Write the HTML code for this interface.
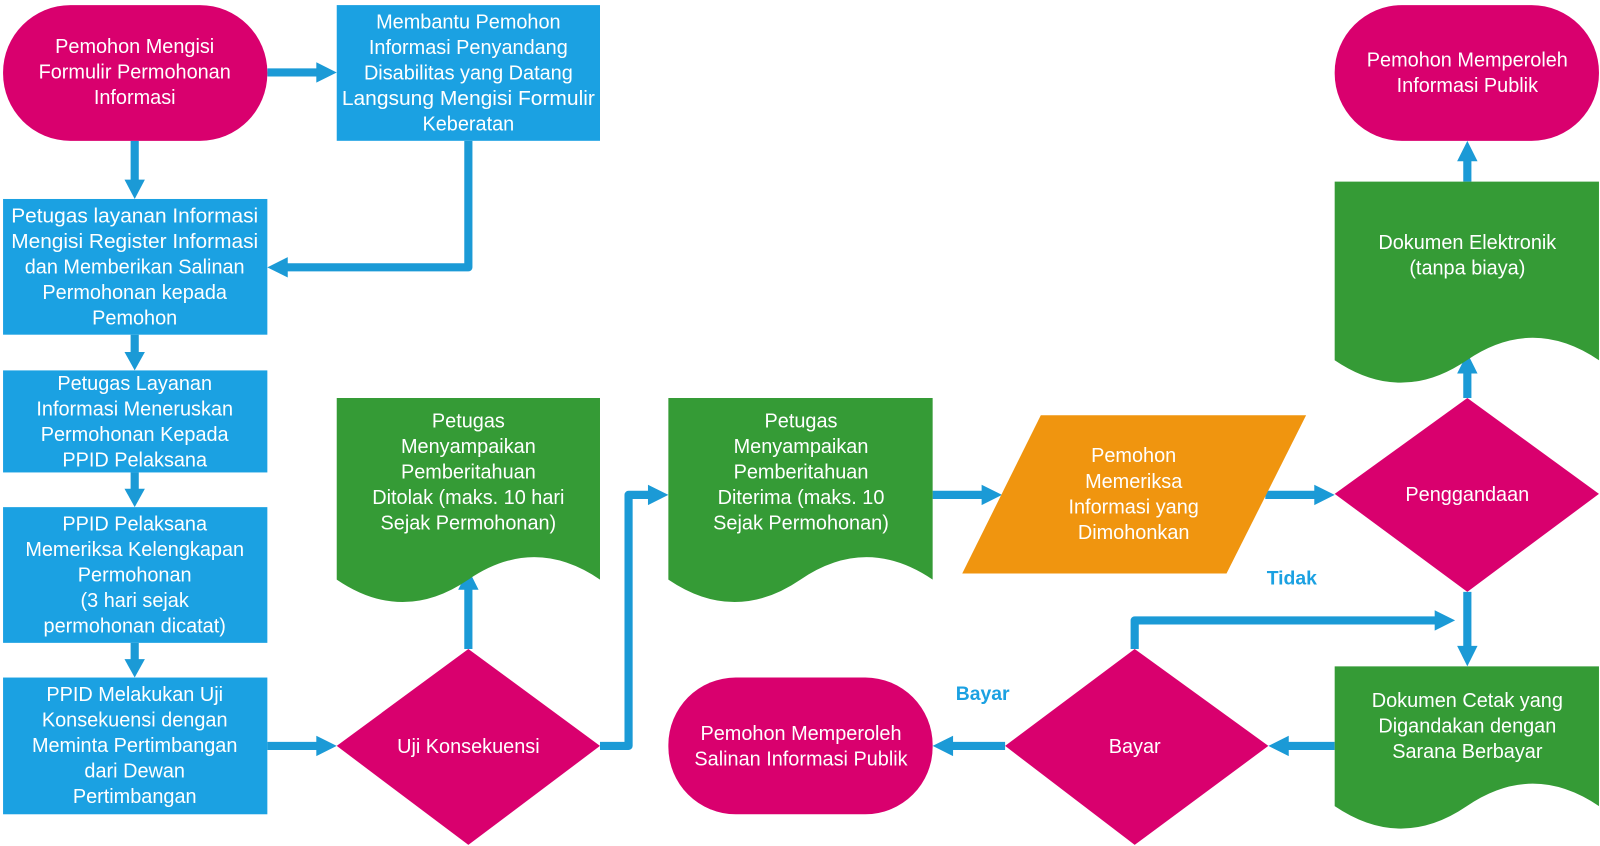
<!DOCTYPE html>
<html><head><meta charset="utf-8"><style>
html,body{margin:0;padding:0;background:#fff;overflow:hidden;width:1600px;height:846px;}
svg{display:block;}
text{font-family:"Liberation Sans",sans-serif;font-size:19.5px;fill:#fff;text-anchor:middle;}
.lb{fill:#1ba1e2;font-weight:bold;font-size:19px;}
</style></head><body>
<svg width="1600" height="846" viewBox="0 0 1600 846" xmlns="http://www.w3.org/2000/svg">
<g transform="scale(1.0204)">
<g fill="none" stroke="#1b9ad6" stroke-width="8" stroke-linejoin="round">
<path d="M262 71H312"/>
<path d="M132 138V178"/>
<path d="M459 138V262H280"/>
<path d="M132 328V346"/>
<path d="M132 463V480"/>
<path d="M132 630V647"/>
<path d="M262 731H312"/>
<path d="M459 636V576"/>
<path d="M588 731H616V485H637"/>
<path d="M914 485H964"/>
<path d="M1240 485H1290"/>
<path d="M1438 390V364"/>
<path d="M1438 178V156"/>
<path d="M1438 580V635"/>
<path d="M1308 731H1261"/>
<path d="M1112 636V608H1407"/>
<path d="M985 731H932"/>
</g>
<g fill="#1b9ad6">
<polygon points="310,61 330,71 310,81"/>
<polygon points="122,176 132,195 142,176"/>
<polygon points="282,252 262,262 282,272"/>
<polygon points="122,345 132,363 142,345"/>
<polygon points="122,479 132,497 142,479"/>
<polygon points="122,646 132,664 142,646"/>
<polygon points="310,721 330,731 310,741"/>
<polygon points="449,578 459,558 469,578"/>
<polygon points="635,475 655,485 635,495"/>
<polygon points="962,475 982,485 962,495"/>
<polygon points="1288,475 1308,485 1288,495"/>
<polygon points="1428,366 1438,346 1448,366"/>
<polygon points="1428,158 1438,138 1448,158"/>
<polygon points="1428,633 1438,653 1448,633"/>
<polygon points="1263,721 1243,731 1263,741"/>
<polygon points="1406,598 1426,608 1406,618"/>
<polygon points="934,721 914,731 934,741"/>
</g>
<rect x="3" y="5" width="259" height="133" rx="66" fill="#d9006e"/>
<rect x="1308" y="5" width="259" height="133" rx="66" fill="#d9006e"/>
<rect x="655" y="664" width="259" height="134" rx="66" fill="#d9006e"/>
<g fill="#1ba1e2">
<rect x="330" y="5" width="258" height="133"/>
<rect x="3" y="195" width="259" height="133"/>
<rect x="3" y="363" width="259" height="100"/>
<rect x="3" y="497" width="259" height="133"/>
<rect x="3" y="664" width="259" height="134"/>
</g>
<g fill="#359b36">
<path d="M330 390H588V568Q523.5 524 459 568T330 568Z"/>
<path d="M655 390H914V568Q849 524 784.5 568T655 568Z"/>
<path d="M1308 178H1567V353Q1502 309 1437.5 353T1308 353Z"/>
<path d="M1308 653H1567V790Q1502 746 1437.5 790T1308 790Z"/>
</g>
<polygon points="1020,407 1280,407 1202,562 943,562" fill="#f0950f"/>
<g fill="#d9006e">
<polygon points="459,636 588,731 459,828 330,731"/>
<polygon points="1438,390 1567,484 1438,580 1308,484"/>
<polygon points="1112,636 1243,731 1112,828 985,731"/>
</g>
<text x="132" y="52"><tspan x="132">Pemohon Mengisi</tspan><tspan x="132" dy="25">Formulir Permohonan</tspan><tspan x="132" dy="25">Informasi</tspan></text>
<text x="459" y="28"><tspan x="459">Membantu Pemohon</tspan><tspan x="459" dy="25">Informasi Penyandang</tspan><tspan x="459" dy="25">Disabilitas yang Datang</tspan><tspan x="459" dy="25" textLength="248" lengthAdjust="spacingAndGlyphs">Langsung Mengisi Formulir</tspan><tspan x="459" dy="25">Keberatan</tspan></text>
<text x="132" y="218"><tspan x="132" textLength="242" lengthAdjust="spacingAndGlyphs">Petugas layanan Informasi</tspan><tspan x="132" dy="25" textLength="242" lengthAdjust="spacingAndGlyphs">Mengisi Register Informasi</tspan><tspan x="132" dy="25">dan Memberikan Salinan</tspan><tspan x="132" dy="25">Permohonan kepada</tspan><tspan x="132" dy="25">Pemohon</tspan></text>
<text x="132" y="382"><tspan x="132">Petugas Layanan</tspan><tspan x="132" dy="25">Informasi Meneruskan</tspan><tspan x="132" dy="25">Permohonan Kepada</tspan><tspan x="132" dy="25">PPID Pelaksana</tspan></text>
<text x="132" y="520"><tspan x="132">PPID Pelaksana</tspan><tspan x="132" dy="25">Memeriksa Kelengkapan</tspan><tspan x="132" dy="25">Permohonan</tspan><tspan x="132" dy="25">(3 hari sejak</tspan><tspan x="132" dy="25">permohonan dicatat)</tspan></text>
<text x="132" y="687"><tspan x="132">PPID Melakukan Uji</tspan><tspan x="132" dy="25">Konsekuensi dengan</tspan><tspan x="132" dy="25">Meminta Pertimbangan</tspan><tspan x="132" dy="25">dari Dewan</tspan><tspan x="132" dy="25">Pertimbangan</tspan></text>
<text x="459" y="419"><tspan x="459">Petugas</tspan><tspan x="459" dy="25">Menyampaikan</tspan><tspan x="459" dy="25">Pemberitahuan</tspan><tspan x="459" dy="25">Ditolak (maks. 10 hari</tspan><tspan x="459" dy="25">Sejak Permohonan)</tspan></text>
<text x="785" y="419"><tspan x="785">Petugas</tspan><tspan x="785" dy="25">Menyampaikan</tspan><tspan x="785" dy="25">Pemberitahuan</tspan><tspan x="785" dy="25">Diterima (maks. 10</tspan><tspan x="785" dy="25">Sejak Permohonan)</tspan></text>
<text x="1111" y="453"><tspan x="1111">Pemohon</tspan><tspan x="1111" dy="25">Memeriksa</tspan><tspan x="1111" dy="25">Informasi yang</tspan><tspan x="1111" dy="25">Dimohonkan</tspan></text>
<text x="1438" y="491">Penggandaan</text>
<text x="1438" y="65"><tspan x="1438">Pemohon Memperoleh</tspan><tspan x="1438" dy="25">Informasi Publik</tspan></text>
<text x="1438" y="244"><tspan x="1438">Dokumen Elektronik</tspan><tspan x="1438" dy="25">(tanpa biaya)</tspan></text>
<text x="1438" y="693"><tspan x="1438">Dokumen Cetak yang</tspan><tspan x="1438" dy="25">Digandakan dengan</tspan><tspan x="1438" dy="25">Sarana Berbayar</tspan></text>
<text x="1112" y="738">Bayar</text>
<text x="459" y="738">Uji Konsekuensi</text>
<text x="785" y="725"><tspan x="785">Pemohon Memperoleh</tspan><tspan x="785" dy="25">Salinan Informasi Publik</tspan></text>
<text class="lb" x="1266" y="573">Tidak</text>
<text class="lb" x="963" y="686">Bayar</text>
</g>
</svg>
</body></html>
